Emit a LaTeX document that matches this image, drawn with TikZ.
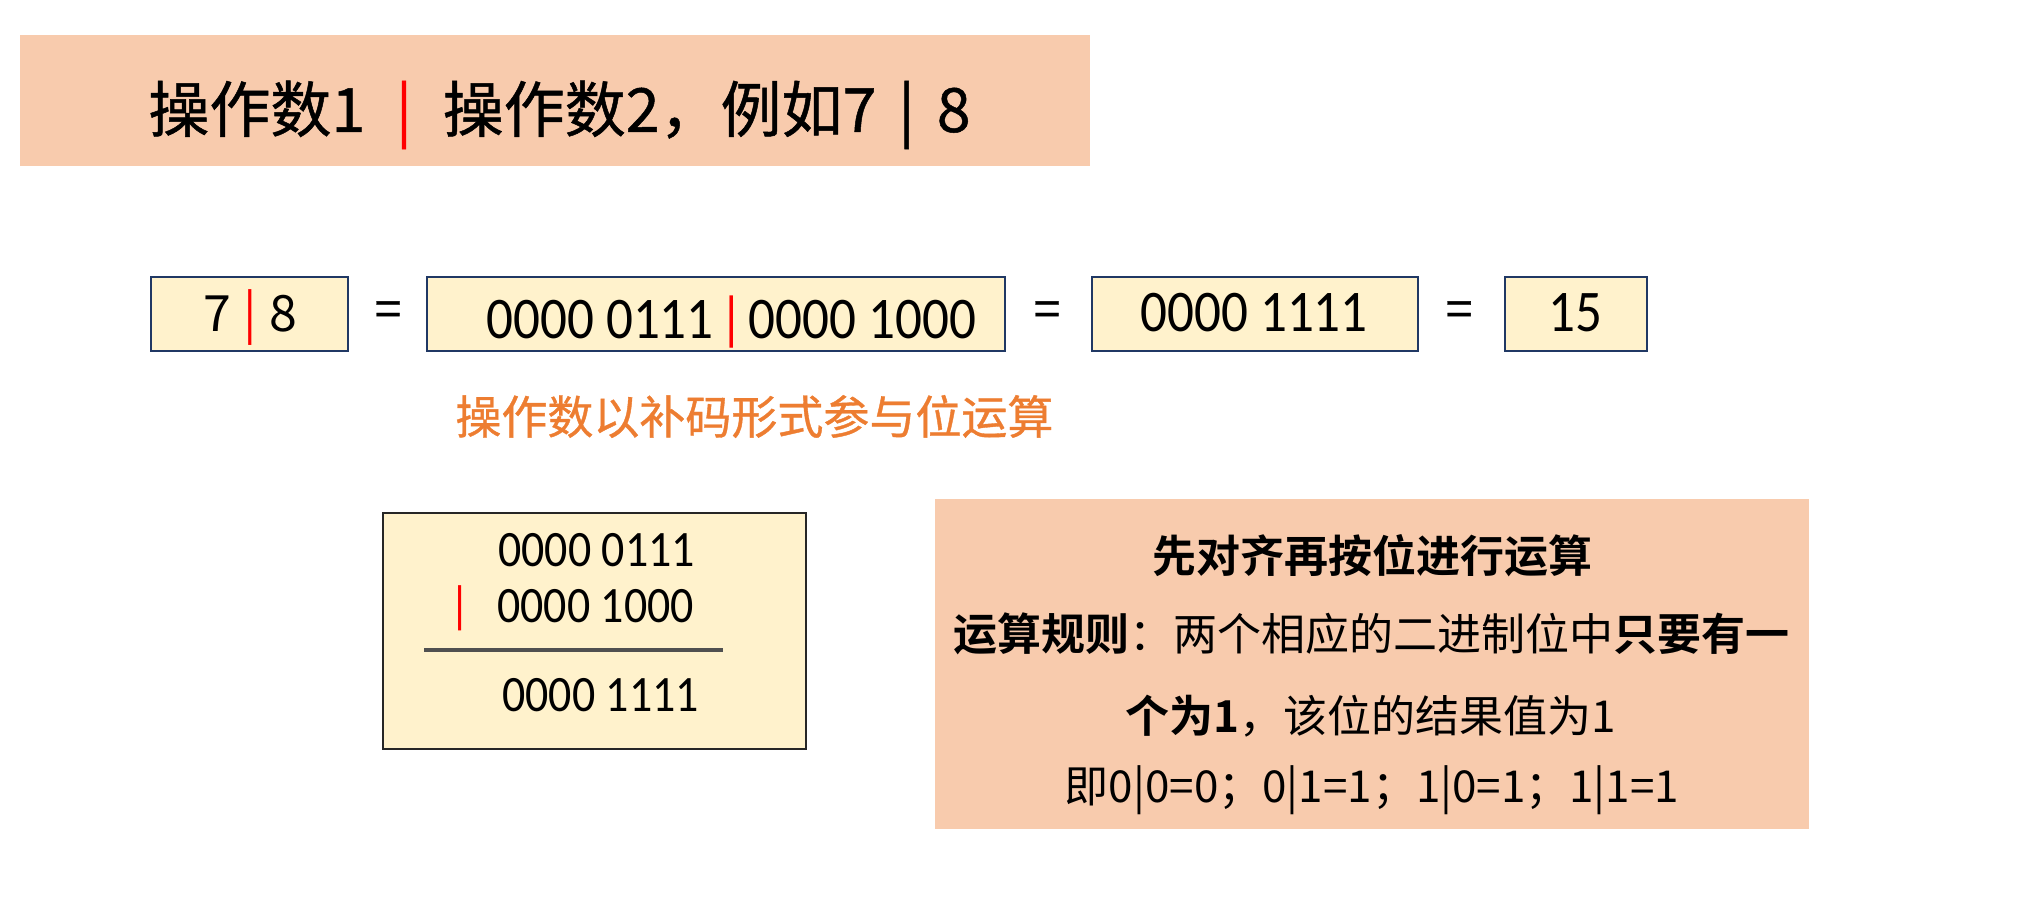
\documentclass[tikz,border=0pt]{standalone}
\usepackage{fontspec}
\setmainfont{Carlito}
\newfontfamily\cjk{Noto Sans CJK SC}[BoldFont={Noto Sans CJK SC Bold}]
\newfontfamily\cjkm{Noto Sans CJK SC}[FakeBold=0.8]
\newfontfamily\dig[FakeStretch=0.9]{Carlito}
\definecolor{peach}{HTML}{F8CBAD}
\definecolor{lyellow}{HTML}{FFF2CC}
\definecolor{navy}{HTML}{203864}
\definecolor{orangetxt}{HTML}{ED7D31}
\definecolor{rulegray}{HTML}{505050}
\definecolor{redbar}{HTML}{FF0000}
\tikzset{
  peachbox/.style={fill=peach, draw=none},
  ybox/.style={fill=lyellow, draw=navy, line width=1pt},
  calcbox/.style={fill=lyellow, draw=black!85, line width=1pt},
  rowtxt/.style={anchor=base west, inner sep=0pt, font=\dig\fontsize{29.5pt}{30pt}\selectfont},
  calctxt/.style={anchor=base west, inner sep=0pt, font=\dig\fontsize{25.5pt}{26pt}\selectfont},
  eqtxt/.style={anchor=center, inner sep=0pt, font=\cjkm\fontsize{24pt}{24pt}\selectfont},
  ruletxt/.style={anchor=base, inner sep=0pt, font=\cjk\fontsize{22pt}{22pt}\selectfont},
}
\begin{document}
\begin{tikzpicture}[x=0.5pt,y=-0.5pt]
\useasboundingbox (0,0) rectangle (2044,908);
% title
\path[peachbox] (20,35) rectangle (1090,166);
\node[anchor=base west, inner sep=0pt, font=\cjkm\fontsize{30.5pt}{31pt}\selectfont] (title) at (148,132)
  {操作数1\hspace{0.5em}{\color{redbar}|}\hspace{0.5em}操作数2，例如7\hspace{0.36em}|\hspace{0.36em}8};
% row 2 boxes
\path[ybox] (151,277) rectangle (348,351);
\node[anchor=base west, inner sep=0pt, font=\cjk\fontsize{25pt}{25pt}\selectfont] (tA) at (203,332)
  {7\hspace{0.25em}{\color{redbar}|}\hspace{0.25em}8};
\node[eqtxt] (eq1) at (388,314) {=};
\path[ybox] (427,277) rectangle (1005,351);
\node[rowtxt] (tB) at (486,339) {0000 0111\hspace{0.1em}{\color{redbar}|}\hspace{0.08em}0000 1000};
\node[eqtxt] (eq2) at (1047,314) {=};
\path[ybox] (1092,277) rectangle (1418,351);
\node[rowtxt] (tC) at (1140,332) {0000 1111};
\node[eqtxt] (eq3) at (1459,314) {=};
\path[ybox] (1505,277) rectangle (1647,351);
\node[rowtxt] (tD) at (1548,332) {15};
% orange note
\node[anchor=base west, inner sep=0pt, text=orangetxt, font=\cjkm\fontsize{23pt}{23pt}\selectfont] (note) at (455,434)
  {操作数以补码形式参与位运算};
% calculation box
\path[calcbox] (383,513) rectangle (806,749);
\node[calctxt] (c1) at (498,567) {0000 0111};
\node[calctxt] (c2) at (497,622) {0000 1000};
\node[calctxt, text=redbar] (cbar) at (449,622) {|};
\coordinate (rl) at (424,650);
\coordinate (rr) at (723,650);
\draw[rulegray, line width=2pt] (rl) -- (rr);
\node[calctxt] (c3) at (502,711) {0000 1111};
% rules box
\path[peachbox] (935,499) rectangle (1809,829);
\node[ruletxt] (r1) at (1372,572) {\bfseries 先对齐再按位进行运算};
\node[ruletxt] (r2) at (1371,650) {\textbf{运算规则}：两个相应的二进制位中\textbf{只要有一}};
\node[ruletxt] (r3) at (1371,732) {\textbf{个为1}，该位的结果值为1};
\node[ruletxt] (r4) at (1372,802) {即0|0=0；0|1=1；1|0=1；1|1=1};
\end{tikzpicture}
\end{document}
